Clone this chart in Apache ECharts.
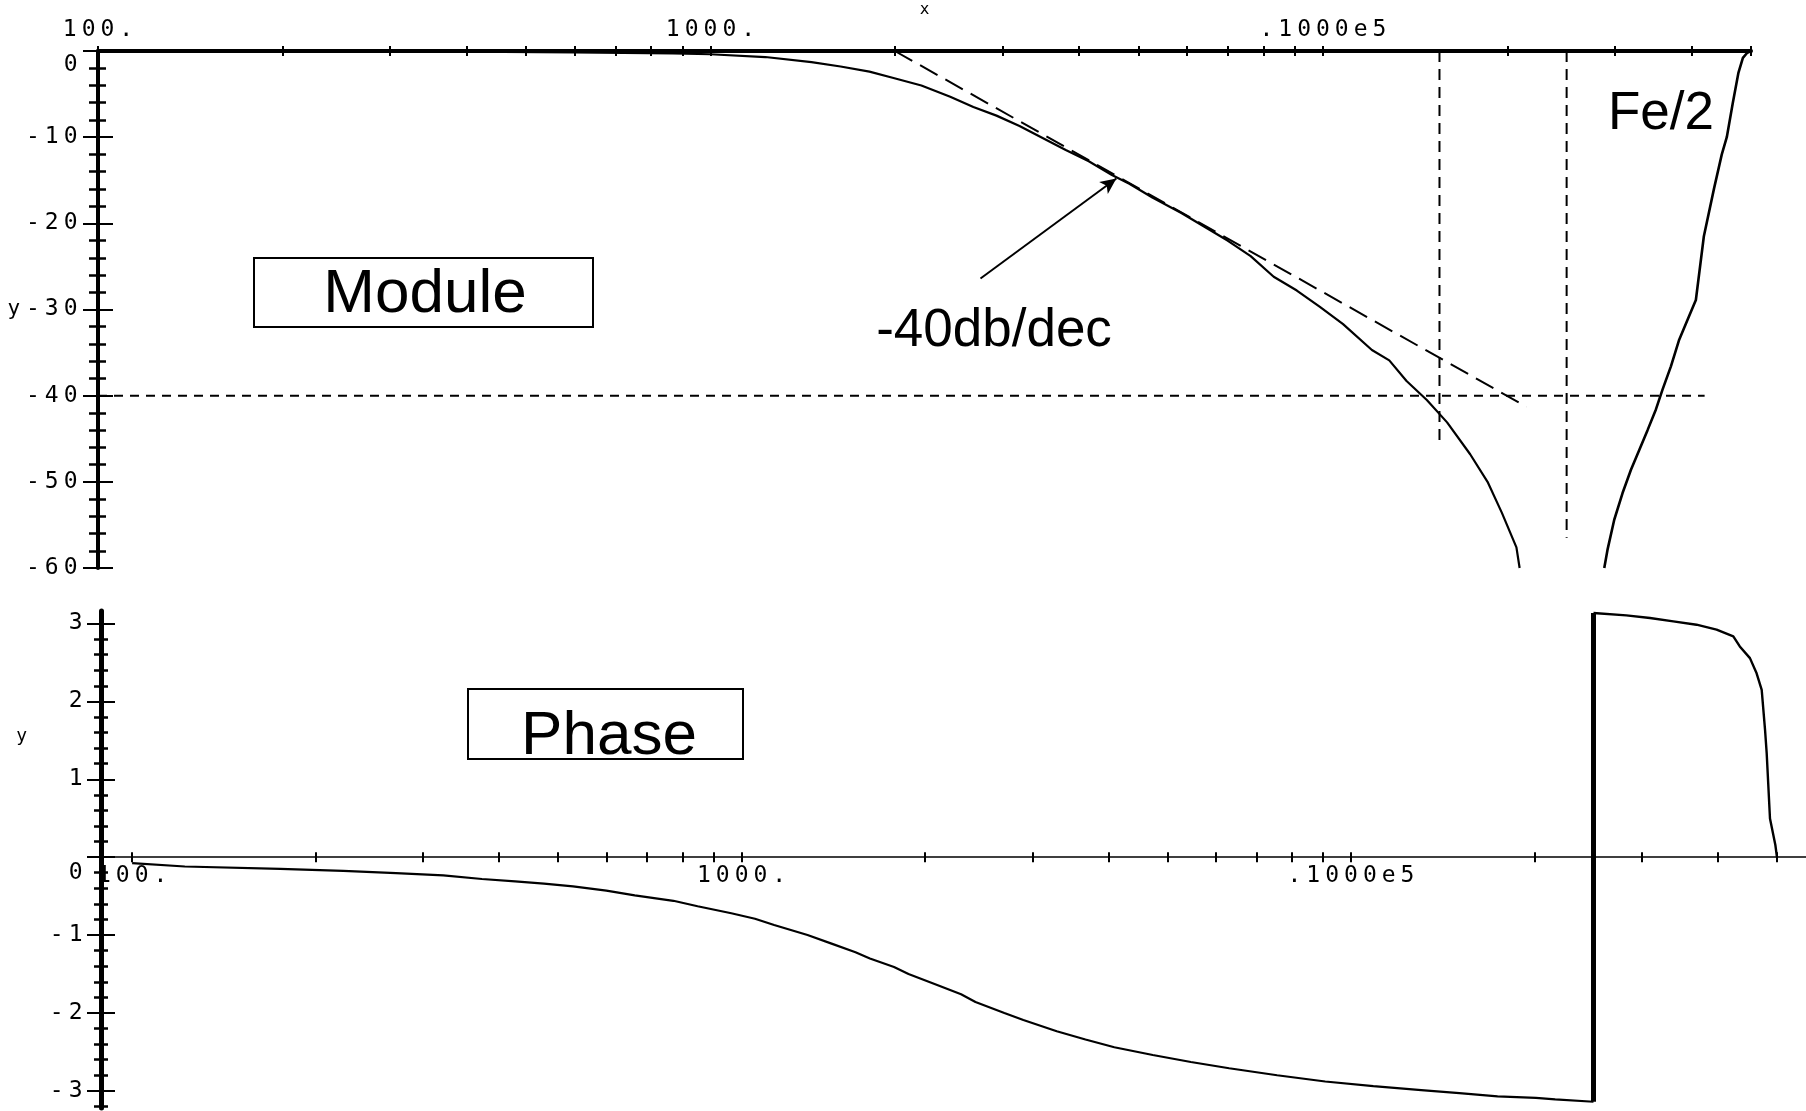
<!DOCTYPE html>
<html>
<head>
<meta charset="utf-8">
<script src="https://cdn.jsdelivr.net/npm/echarts@6/dist/echarts.min.js"></script>
<style>
  html, body { margin: 0; padding: 0; background: #fff; }
  #chart { width: 1806px; height: 1111px; }
</style>
</head>
<body>
<div id="chart"></div>
<script>
// Gain (dB) of the filter, below and above the notch frequency
const magLow = [
  [100, 0], [200, -0.03], [400, -0.08], [600, -0.15], [868, -0.28], [1000, -0.38],
  [1229, -0.7], [1462, -1.3], [1631, -1.8], [1818, -2.4], [1983, -3.1], [2210, -4.0],
  [2463, -5.3], [2687, -6.5], [2931, -7.5], [3196, -8.7], [3486, -10.1], [3803, -11.5],
  [4147, -12.8], [4524, -14.4], [4830, -15.4], [5267, -17.0], [5873, -18.8], [6406, -20.4],
  [6987, -22.0], [7621, -23.8], [8311, -26.2], [9066, -27.8], [9888, -29.7], [10787, -31.7],
  [12023, -34.7], [12834, -35.9], [13695, -38.3], [14780, -40.5], [15950, -43.1],
  [17395, -46.8], [18570, -50.0], [19600, -53.6], [20700, -57.6], [20950, -60.0]
];
const magHigh = [
  [28800, -60.0], [29150, -57.9], [29900, -54.4], [30850, -51.3], [31840, -48.6],
  [32850, -46.3], [33890, -44.0], [34970, -41.6], [35850, -39.3], [37000, -36.6],
  [38170, -33.5], [39390, -31.2], [40640, -28.9], [41880, -21.5], [43500, -16.0],
  [44800, -12.0], [45650, -10.0], [46700, -6.0], [47700, -2.5], [48500, -0.8],
  [49300, -0.2], [50000, 0]
];
// -40 dB/decade asymptote starting at the 2 kHz corner
const asymptote = [[2000, 0], [21500, -41.3]];
// reference lines: -40 dB level, -40 dB crossing, notch
const levelLine = [[100, -40], [42000, -40]];
const crossLine = [[15500, 0], [15500, -45.3]];
const notchLine = [[25000, 0], [25000, -56.5]];
// annotation arrow (from text towards the curve)
const arrowFrom = [2760, -26.4];
const arrowTo = [4600, -14.8];

// Phase (rad)
const phaseLow = [
  [100, -0.077], [122, -0.12], [175, -0.15], [222, -0.175], [271, -0.205], [324, -0.235],
  [375, -0.28], [425, -0.31], [474, -0.34], [529, -0.376], [600, -0.43], [668, -0.49],
  [773, -0.56], [847, -0.63], [962, -0.72], [1052, -0.79], [1131, -0.87], [1283, -1.0],
  [1405, -1.11], [1538, -1.22], [1624, -1.30], [1779, -1.41], [1879, -1.50], [2094, -1.64],
  [2292, -1.76], [2420, -1.86], [2699, -2.0], [2900, -2.09], [3290, -2.235], [3667, -2.34],
  [4089, -2.44], [4729, -2.54], [5461, -2.63], [6310, -2.71], [7565, -2.80], [9073, -2.88],
  [10880, -2.94], [13040, -2.99], [15060, -3.03], [17400, -3.07], [20110, -3.09],
  [21630, -3.11], [25000, -3.14]
];
const phaseHigh = [
  [25000, 3.134], [28300, 3.104], [30950, 3.07], [33800, 3.027], [36900, 2.984],
  [39800, 2.92], [42400, 2.834], [43450, 2.705], [45150, 2.555], [46300, 2.36],
  [47200, 2.148], [47800, 1.633], [48100, 1.333], [48700, 0.497], [49700, 0.156], [50000, 0]
];

// axes
const freqTop = [100, 50000];
const freqBottom = [88.9, 55800];
const magRange = [-60, 0];
const phaseRange = [-3.22, 3.16];
const freqTicks = [100, 200, 300, 400, 500, 600, 700, 800, 900,
  1000, 2000, 3000, 4000, 5000, 6000, 7000, 8000, 9000,
  10000, 20000, 30000, 40000, 50000];
const freqLabelValues = [100, 1000, 10000];
const freqLabelText = ['100.', '1000.', '.1000e5'];
const phaseTicks = [-3, -2, -1, 0, 1, 2, 3];
const phaseMinorTicks = [-3.2, -2.8, -2.6, -2.4, -2.2, -1.8, -1.6, -1.4, -1.2,
  -0.8, -0.6, -0.4, -0.2, 0.2, 0.4, 0.6, 0.8, 1.2, 1.4, 1.6, 1.8,
  2.2, 2.4, 2.6, 2.8];

const MONO = 'DejaVu Sans Mono';
const SANS = 'Liberation Sans';
const lg = v => Math.log10(v);

// grid boxes
const topGrid = { left: 98, top: 51, width: 1653, height: 517 };
const botGrid = { left: 101, top: 611, width: 1705, height: 497 };
// the frequency axis of the phase panel runs along phase = 0
const botAxisOffset = -botGrid.height * (0 - phaseRange[0]) / (phaseRange[1] - phaseRange[0]);

// spread the characters of tick labels apart
function spaced(s) {
  return s.split('').map(ch => '{c|' + ch + '}').join('');
}
const tickFont = { fontFamily: MONO, fontSize: 23, color: '#000' };
const tickRich = {
  c: Object.assign({ padding: [0, 2.5] }, tickFont),
  zTop: Object.assign({ padding: [28, 2.5, 0, 2.5] }, tickFont),
  zBot: Object.assign({ padding: [32, 2.5, 0, 2.5] }, tickFont)
};
function freqLabel(v) {
  for (let i = 0; i < freqLabelValues.length; i++) {
    if (Math.abs(lg(freqLabelValues[i]) - v) < 1e-6) return spaced(freqLabelText[i]);
  }
  return '';
}

const BLACK = '#000';
const hidden = { show: false };

// frequency axes: a log axis carries the curves, value axes in log10 units carry ticks and labels
function freqAxes(grid, range, pos, offset, lineWidth, labelMargin, name) {
  return [
    {
      type: 'log', logBase: 10, gridIndex: grid, min: range[0], max: range[1], position: pos, offset: offset,
      axisLine: { show: true, onZero: false, lineStyle: { color: BLACK, width: lineWidth } },
      axisTick: hidden, axisLabel: hidden, splitLine: hidden, minorTick: hidden
    },
    {
      type: 'value', gridIndex: grid, min: lg(range[0]), max: lg(range[1]), position: pos, offset: offset,
      axisLine: { show: false, onZero: false },
      axisTick: { show: true, inside: false, length: 5, customValues: freqTicks.map(lg), lineStyle: { color: BLACK, width: 2 } },
      axisLabel: { show: true, customValues: freqLabelValues.map(lg), formatter: freqLabel, rich: tickRich, margin: labelMargin },
      splitLine: hidden,
      name: name, nameLocation: 'middle', nameGap: 25,
      nameTextStyle: { fontFamily: MONO, fontSize: 16, color: BLACK }
    },
    {
      type: 'value', gridIndex: grid, min: lg(range[0]), max: lg(range[1]), position: pos, offset: offset,
      axisLine: { show: false, onZero: false },
      axisTick: { show: true, inside: true, length: 5, customValues: freqTicks.map(lg), lineStyle: { color: BLACK, width: 2 } },
      axisLabel: hidden, splitLine: hidden
    }
  ];
}

const xAxis = [].concat(
  freqAxes(0, freqTop, 'top', 0, 4, 9, 'x'),
  freqAxes(1, freqBottom, 'bottom', botAxisOffset, 1.5, 7, '')
);

const yAxis = [
  // 0-3: phase panel
  {
    type: 'value', gridIndex: 1, min: phaseRange[0], max: phaseRange[1], position: 'left',
    axisLine: { show: true, onZero: false, lineStyle: { color: BLACK, width: 5 } },
    axisTick: { show: true, inside: false, length: 14, customValues: phaseTicks, lineStyle: { color: BLACK, width: 2 } },
    axisLabel: {
      show: true, customValues: phaseTicks, margin: 16, rich: tickRich,
      formatter: v => (v === 0 ? '{zBot|0}' : spaced(String(v)))
    },
    splitLine: hidden,
    name: '{n|y}', nameLocation: 'middle', nameRotate: 0, nameGap: 74,
    nameTextStyle: {
      fontFamily: MONO, fontSize: 18, color: BLACK,
      rich: { n: { fontFamily: MONO, fontSize: 18, color: BLACK, padding: [0, 0, 246, 0] } }
    }
  },
  {
    type: 'value', gridIndex: 1, min: phaseRange[0], max: phaseRange[1], position: 'left',
    axisLine: { show: false, onZero: false },
    axisTick: { show: true, inside: true, length: 14, customValues: phaseTicks, lineStyle: { color: BLACK, width: 2 } },
    axisLabel: hidden, splitLine: hidden
  },
  {
    type: 'value', gridIndex: 1, min: phaseRange[0], max: phaseRange[1], position: 'left',
    axisLine: { show: false, onZero: false },
    axisTick: { show: true, inside: false, length: 7, customValues: phaseMinorTicks, lineStyle: { color: BLACK, width: 2.5 } },
    axisLabel: hidden, splitLine: hidden
  },
  {
    type: 'value', gridIndex: 1, min: phaseRange[0], max: phaseRange[1], position: 'left',
    axisLine: { show: false, onZero: false },
    axisTick: { show: true, inside: true, length: 7, customValues: phaseMinorTicks, lineStyle: { color: BLACK, width: 2.5 } },
    axisLabel: hidden, splitLine: hidden
  },
  // 4-5: gain panel
  {
    type: 'value', gridIndex: 0, min: magRange[0], max: magRange[1], interval: 10, position: 'left',
    axisLine: { show: true, onZero: false, lineStyle: { color: BLACK, width: 4 } },
    axisTick: { show: true, inside: false, length: 15, lineStyle: { color: BLACK, width: 2 } },
    minorTick: { show: true, splitNumber: 5, length: 9, lineStyle: { color: BLACK, width: 2.5 } },
    axisLabel: {
      show: true, margin: 18, rich: tickRich,
      formatter: v => (v === 0 ? '{zTop|0}' : spaced(String(v)))
    },
    splitLine: hidden,
    name: 'y', nameLocation: 'middle', nameRotate: 0, nameGap: 76,
    nameTextStyle: { fontFamily: MONO, fontSize: 21, color: BLACK }
  },
  {
    type: 'value', gridIndex: 0, min: magRange[0], max: magRange[1], interval: 10, position: 'left',
    axisLine: { show: false, onZero: false },
    axisTick: { show: true, inside: true, length: 15, lineStyle: { color: BLACK, width: 2 } },
    minorTick: { show: true, splitNumber: 5, length: 8, lineStyle: { color: BLACK, width: 2.5 } },
    axisLabel: hidden, splitLine: hidden
  }
];

function curve(data, xi, yi, width, dash) {
  return {
    type: 'line', data: data, xAxisIndex: xi, yAxisIndex: yi,
    showSymbol: false, symbol: 'none', smooth: false, clip: true, silent: true,
    lineStyle: { color: BLACK, width: width, type: dash || 'solid' }
  };
}

const asymSeries = curve(asymptote, 0, 4, 2, [20, 9]);
asymSeries.markLine = {
  silent: true, symbol: ['none', 'arrow'], symbolSize: [11, 16],
  label: { show: false },
  lineStyle: { color: BLACK, width: 2, type: 'solid' },
  data: [[{ coord: arrowFrom }, { coord: arrowTo }]]
};

const series = [
  curve(magLow, 0, 4, 2.2),
  curve(magHigh, 0, 4, 2.6),
  asymSeries,
  curve(levelLine, 0, 4, 2, [9, 7]),
  curve(crossLine, 0, 4, 2, [11, 7]),
  curve(notchLine, 0, 4, 2, [11, 7]),
  curve(phaseLow, 3, 0, 2.2),
  curve([phaseLow[phaseLow.length - 1], phaseHigh[0]], 3, 0, 5),
  curve(phaseHigh, 3, 0, 2.4)
];

const graphic = [
  { type: 'rect', shape: { x: 254, y: 258, width: 339, height: 69 },
    style: { fill: 'transparent', stroke: BLACK, lineWidth: 2 } },
  { type: 'text', x: 425, y: 295,
    style: { text: 'Module', fontFamily: SANS, fontSize: 62, fill: BLACK, align: 'center', verticalAlign: 'middle' } },
  { type: 'rect', shape: { x: 468, y: 689, width: 275, height: 70 },
    style: { fill: 'transparent', stroke: BLACK, lineWidth: 2 } },
  { type: 'text', x: 609, y: 737,
    style: { text: 'Phase', fontFamily: SANS, fontSize: 62, fill: BLACK, align: 'center', verticalAlign: 'middle' } },
  { type: 'text', x: 994, y: 331,
    style: { text: '-40db/dec', fontFamily: SANS, fontSize: 53, fill: BLACK, align: 'center', verticalAlign: 'middle' } },
  { type: 'text', x: 1661, y: 114,
    style: { text: 'Fe/2', fontFamily: SANS, fontSize: 53, fill: BLACK, align: 'center', verticalAlign: 'middle' } }
];

const chart = echarts.init(document.getElementById('chart'), null, { renderer: 'canvas' });
chart.setOption({
  animation: false,
  backgroundColor: '#fff',
  grid: [
    Object.assign({ containLabel: false, outerBoundsMode: 'none' }, topGrid),
    Object.assign({ containLabel: false, outerBoundsMode: 'none' }, botGrid)
  ],
  xAxis: xAxis,
  yAxis: yAxis,
  series: series,
  graphic: graphic
});
</script>
</body>
</html>
